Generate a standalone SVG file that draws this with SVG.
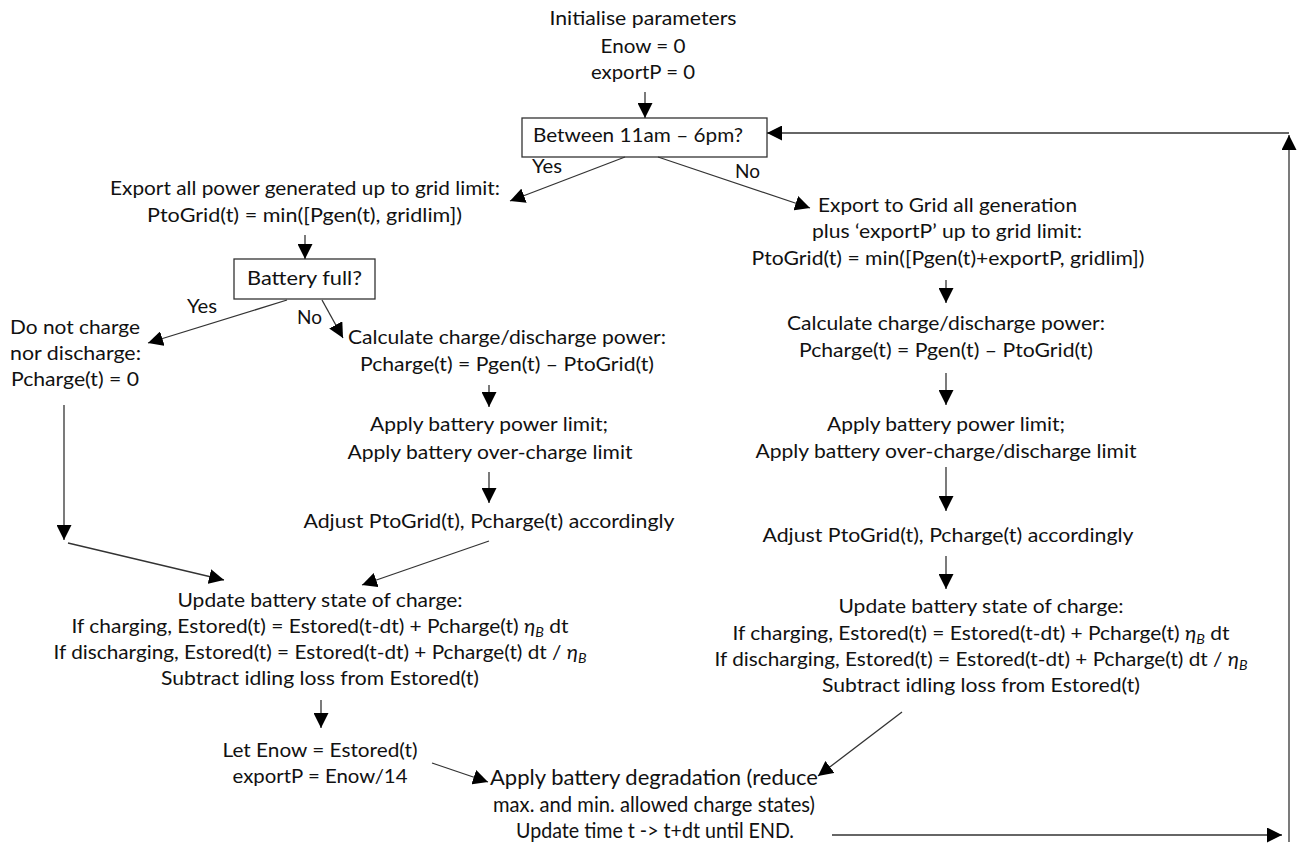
<svg xmlns="http://www.w3.org/2000/svg" width="1302" height="848" viewBox="0 0 1302 848">
<defs>
<style>
text{font-family:Lato,"Liberation Sans",sans-serif;font-size:19px;fill:#111;text-anchor:middle}
.l{text-anchor:start}
.c{font-size:21.5px}
.box{fill:#fff;stroke:#333;stroke-width:1.3}
.cn line{stroke:#333;stroke-width:1.3}
.e{font-style:italic}
.s{font-style:italic;font-size:13px}
</style>
<marker id="ah" markerUnits="userSpaceOnUse" markerWidth="16" markerHeight="15" refX="15" refY="7.5" orient="auto">
<path d="M0,0 L15,7.5 L0,15 Z" fill="#000"/>
</marker>
</defs>
<rect width="1302" height="848" fill="#fff"/>

<g id="init">
<text x="643" y="25" textLength="187" lengthAdjust="spacingAndGlyphs">Initialise parameters</text>
<text x="643" y="53" textLength="85" lengthAdjust="spacingAndGlyphs">Enow = 0</text>
<text x="643" y="79" textLength="104" lengthAdjust="spacingAndGlyphs">exportP = 0</text>
</g>

<g id="dec-time">
<rect class="box" x="522" y="118" width="245" height="39"/>
<text x="638" y="142" textLength="210" lengthAdjust="spacingAndGlyphs">Between 11am – 6pm?</text>
</g>

<g id="export-all">
<text x="305" y="195" textLength="390" lengthAdjust="spacingAndGlyphs">Export all power generated up to grid limit:</text>
<text x="304.5" y="222" textLength="315" lengthAdjust="spacingAndGlyphs">PtoGrid(t) = min([Pgen(t), gridlim])</text>
</g>

<g id="dec-full">
<rect class="box" x="234" y="259" width="141" height="40"/>
<text x="304.5" y="285" textLength="115" lengthAdjust="spacingAndGlyphs">Battery full?</text>
</g>

<g id="no-charge">
<text class="l" x="10" y="334" textLength="130" lengthAdjust="spacingAndGlyphs">Do not charge</text>
<text class="l" x="10" y="360" textLength="131" lengthAdjust="spacingAndGlyphs">nor discharge:</text>
<text class="l" x="11" y="386" textLength="128" lengthAdjust="spacingAndGlyphs">Pcharge(t) = 0</text>
</g>

<g id="calc-left">
<text x="507" y="344" textLength="318" lengthAdjust="spacingAndGlyphs">Calculate charge/discharge power:</text>
<text x="507" y="371" textLength="294" lengthAdjust="spacingAndGlyphs">Pcharge(t) = Pgen(t) – PtoGrid(t)</text>
</g>

<g id="limit-left">
<text x="489" y="431" textLength="238" lengthAdjust="spacingAndGlyphs">Apply battery power limit;</text>
<text x="490" y="459" textLength="285" lengthAdjust="spacingAndGlyphs">Apply battery over-charge limit</text>
</g>

<g id="adjust-left">
<text x="489" y="528" textLength="371" lengthAdjust="spacingAndGlyphs">Adjust PtoGrid(t), Pcharge(t) accordingly</text>
</g>

<g id="soc-left">
<text x="320" y="607" textLength="285" lengthAdjust="spacingAndGlyphs">Update battery state of charge:</text>
<text x="320" y="633" textLength="497" lengthAdjust="spacingAndGlyphs">If charging, Estored(t) = Estored(t-dt) + Pcharge(t) <tspan class="e">η</tspan><tspan class="s" dy="4">B</tspan><tspan dy="-4"> dt</tspan></text>
<text x="320" y="659" textLength="533" lengthAdjust="spacingAndGlyphs">If discharging, Estored(t) = Estored(t-dt) + Pcharge(t) dt / <tspan class="e">η</tspan><tspan class="s" dy="4">B</tspan></text>
<text x="320" y="685" textLength="318" lengthAdjust="spacingAndGlyphs">Subtract idling loss from Estored(t)</text>
</g>

<g id="let-enow">
<text x="320" y="757" textLength="195" lengthAdjust="spacingAndGlyphs">Let Enow = Estored(t)</text>
<text x="320" y="783" textLength="175" lengthAdjust="spacingAndGlyphs">exportP = Enow/14</text>
</g>

<g id="export-grid">
<text x="947.5" y="212" textLength="259" lengthAdjust="spacingAndGlyphs">Export to Grid all generation</text>
<text x="947" y="238" textLength="270" lengthAdjust="spacingAndGlyphs">plus ‘exportP’ up to grid limit:</text>
<text x="948" y="265" textLength="393" lengthAdjust="spacingAndGlyphs">PtoGrid(t) = min([Pgen(t)+exportP, gridlim])</text>
</g>

<g id="calc-right">
<text x="946" y="330" textLength="318" lengthAdjust="spacingAndGlyphs">Calculate charge/discharge power:</text>
<text x="946" y="357" textLength="294" lengthAdjust="spacingAndGlyphs">Pcharge(t) = Pgen(t) – PtoGrid(t)</text>
</g>

<g id="limit-right">
<text x="946" y="431" textLength="238" lengthAdjust="spacingAndGlyphs">Apply battery power limit;</text>
<text x="946" y="458" textLength="381" lengthAdjust="spacingAndGlyphs">Apply battery over-charge/discharge limit</text>
</g>

<g id="adjust-right">
<text x="948" y="542" textLength="371" lengthAdjust="spacingAndGlyphs">Adjust PtoGrid(t), Pcharge(t) accordingly</text>
</g>

<g id="soc-right">
<text x="981" y="613" textLength="285" lengthAdjust="spacingAndGlyphs">Update battery state of charge:</text>
<text x="981" y="640" textLength="497" lengthAdjust="spacingAndGlyphs">If charging, Estored(t) = Estored(t-dt) + Pcharge(t) <tspan class="e">η</tspan><tspan class="s" dy="4">B</tspan><tspan dy="-4"> dt</tspan></text>
<text x="981" y="666" textLength="533" lengthAdjust="spacingAndGlyphs">If discharging, Estored(t) = Estored(t-dt) + Pcharge(t) dt / <tspan class="e">η</tspan><tspan class="s" dy="4">B</tspan></text>
<text x="981" y="692" textLength="318" lengthAdjust="spacingAndGlyphs">Subtract idling loss from Estored(t)</text>
</g>

<g id="degrade">
<text class="c" x="654" y="785" textLength="328" lengthAdjust="spacingAndGlyphs">Apply battery degradation (reduce</text>
<text class="c" x="654" y="812" textLength="322" lengthAdjust="spacingAndGlyphs">max. and min. allowed charge states)</text>
<text class="c" x="655" y="838" textLength="278" lengthAdjust="spacingAndGlyphs">Update time t -&gt; t+dt until END.</text>
</g>

<g id="labels">
<text class="l" x="532" y="173" textLength="30" lengthAdjust="spacingAndGlyphs">Yes</text>
<text class="l" x="735" y="178" textLength="25" lengthAdjust="spacingAndGlyphs">No</text>
<text class="l" x="187" y="313" textLength="30" lengthAdjust="spacingAndGlyphs">Yes</text>
<text class="l" x="297" y="324" textLength="25" lengthAdjust="spacingAndGlyphs">No</text>
</g>

<g id="connectors" class="cn">
<line x1="645" y1="92" x2="645" y2="118" marker-end="url(#ah)"/>
<line x1="625" y1="157" x2="510" y2="201" marker-end="url(#ah)"/>
<line x1="658" y1="157" x2="810" y2="208" marker-end="url(#ah)"/>
<line x1="305" y1="235" x2="305" y2="259" marker-end="url(#ah)"/>
<line x1="287" y1="300" x2="148" y2="343" marker-end="url(#ah)"/>
<line x1="322" y1="300" x2="343" y2="338" marker-end="url(#ah)"/>
<line x1="489" y1="385" x2="489" y2="407" marker-end="url(#ah)"/>
<line x1="489" y1="472" x2="489" y2="503" marker-end="url(#ah)"/>
<line x1="489" y1="541" x2="362" y2="585" marker-end="url(#ah)"/>
<line x1="64" y1="405" x2="64" y2="540" marker-end="url(#ah)"/>
<line x1="68" y1="543" x2="224" y2="580" marker-end="url(#ah)"/>
<line x1="321" y1="700" x2="321" y2="728" marker-end="url(#ah)"/>
<line x1="432" y1="763" x2="488" y2="782" marker-end="url(#ah)"/>
<line x1="946" y1="280" x2="946" y2="303" marker-end="url(#ah)"/>
<line x1="946" y1="373" x2="946" y2="405" marker-end="url(#ah)"/>
<line x1="946" y1="467" x2="946" y2="511" marker-end="url(#ah)"/>
<line x1="946" y1="556" x2="946" y2="589" marker-end="url(#ah)"/>
<line x1="902" y1="712" x2="818" y2="776" marker-end="url(#ah)"/>
<line x1="832" y1="835" x2="1282" y2="835" marker-end="url(#ah)"/>
<line x1="1289" y1="842" x2="1289" y2="135" marker-end="url(#ah)"/>
<line x1="1289" y1="133" x2="767" y2="133" marker-end="url(#ah)"/>
</g>
</svg>
